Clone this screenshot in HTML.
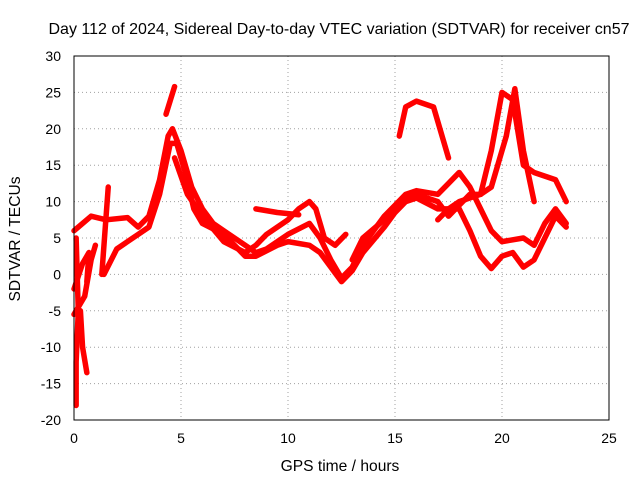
<!DOCTYPE html>
<html><head><meta charset="utf-8"><style>
body{margin:0;background:#fff}
svg{display:block;font-family:"Liberation Sans",sans-serif}
</style></head><body>
<svg id="chart" width="640" height="480">
<rect x="0" y="0" width="640" height="480" fill="#fff"/>
<g id="grid"></g>
<g id="series"></g>
<rect x="74" y="56" width="535" height="364" fill="none" stroke="#000" stroke-width="1"/>
<g id="ticks"></g>
<text x="339" y="34" text-anchor="middle" font-size="16">Day 112 of 2024, Sidereal Day-to-day VTEC variation (SDTVAR) for receiver cn57</text>
<text x="340" y="471" text-anchor="middle" font-size="15.6">GPS time / hours</text>
<text x="20" y="239" text-anchor="middle" font-size="15.6" transform="rotate(-90 20 239)">SDTVAR / TECUs</text>
</svg>
<script>
const xTicks=[0,5,10,15,20,25];
const yTicks=[-20,-15,-10,-5,0,5,10,15,20,25,30];
const track1=[[0,6],[0.8,8],[1.5,7.5],[2.5,7.8],[3,6.5],[3.5,8],[4,13],[4.4,19],[4.6,20],[5,17],[5.5,12],[6,9],[6.5,7],[7,6],[7.5,5],[8,4],[8.5,3],[9,3.5],[10,5.5],[11,7],[11.5,5],[12,2],[12.5,-0.5],[13,1],[13.5,4],[14.5,8],[15,9.5],[15.5,11],[16,11.5],[17,11],[17.5,12.5],[18,14],[18.5,12],[19,9],[19.5,6],[20,4.5],[21,5],[21.5,4],[22,7],[22.5,9],[23,7]];
const track2=[[1.4,0],[2,3.5],[3,5.5],[3.5,6.5],[4,11],[4.5,18],[4.8,18],[5.2,14],[5.6,9],[6,7],[7,5.5],[8,2.5],[8.5,2.5],[9.5,4],[10,4.5],[11,4],[11.5,3],[12,1],[12.5,-1],[13,0.5],[13.5,3],[14.5,6.5],[15,8.5],[15.5,10],[16,10.5],[17,9],[18,9],[18.5,6],[19,2.5],[19.5,0.8],[20,2.5],[20.5,3],[21,1],[21.5,2],[22,5],[22.5,8],[23,6.5]];
const track3=[[4.7,16],[5.3,11],[6,8],[7,4.5],[8,3],[8.5,4],[9,5.5],[10,7.5],[10.5,9],[11,10],[11.3,9],[11.7,5],[12.2,4],[12.7,5.5]];
const track4=[[13,2],[13.5,5],[14.5,7.5],[15,9],[15.5,10.5],[16,11],[16.5,10.5],[17,10],[17.5,8],[18,9.5],[18.5,11],[19,11],[19.5,17],[20,25],[20.5,24],[21,15],[21.5,14],[22,13.5],[22.5,13],[23,10]];
const track5=[[17,7.5],[17.5,9],[18,10],[19,11],[19.5,12],[20.2,19],[20.6,25.5],[21,17],[21.5,10]];
const track6=[[15.2,19],[15.5,23],[16,23.8],[16.8,23],[17.5,16]];
const track7=[[4.3,22],[4.7,25.8]];
const track8=[[8.5,9],[9.5,8.5],[10.5,8.2]];
const track9=[[0,-2],[0.4,1.5],[0.7,3],[0.6,-1]];
const track10=[[0,-5.5],[0.5,-3],[0.8,2],[1.0,4]];
const track11=[[0.1,5],[0.2,-5],[0.1,-12],[0.1,-18]];
const track12=[[0.3,-5],[0.4,-10],[0.6,-13.5]];
const track13=[[1.3,0],[1.45,6],[1.6,12]];
const tracks=[track1,track2,track3,track4,track5,track6,track7,track8,track9,track10,track11,track12,track13];
const NS='http://www.w3.org/2000/svg';
const X0=74,X1=609,Y0=420,Y1=56;
function xs(v){return X0+(v-0)/25*(X1-X0);}
function ys(v){return Y0-(v+20)/50*(Y0-Y1);}
const grid=document.getElementById('grid'),ticks=document.getElementById('ticks'),ser=document.getElementById('series');
xTicks.forEach(t=>{
 const x=xs(t);
 if(t>0&&t<25){const l=document.createElementNS(NS,'line');l.setAttribute('x1',x);l.setAttribute('x2',x);l.setAttribute('y1',Y1);l.setAttribute('y2',Y0);l.setAttribute('stroke','#a0a0a0');l.setAttribute('stroke-dasharray','1,3');
 
 
 grid.appendChild(l);}
 const tx=document.createElementNS(NS,'text');tx.setAttribute('x',x);tx.setAttribute('y',443);tx.setAttribute('text-anchor','middle');tx.setAttribute('font-size','14');tx.textContent=t;
 
 
 ticks.appendChild(tx);
});
yTicks.forEach(t=>{
 const y=ys(t);
 if(t>-20&&t<30){const l=document.createElementNS(NS,'line');l.setAttribute('x1',X0);l.setAttribute('x2',X1);l.setAttribute('y1',y);l.setAttribute('y2',y);l.setAttribute('stroke','#a0a0a0');l.setAttribute('stroke-dasharray','1,3');
 
 
 grid.appendChild(l);}
 const tx=document.createElementNS(NS,'text');tx.setAttribute('x',61);tx.setAttribute('y',y+5);tx.setAttribute('text-anchor','end');tx.setAttribute('font-size','14');tx.textContent=t;
 
 
 ticks.appendChild(tx);
});
tracks.forEach((tr,i)=>{
 const p=document.createElementNS(NS,'polyline');
 p.setAttribute('points',tr.map(d=>xs(d[0])+','+ys(d[1])).join(' '));
 p.setAttribute('fill','none');p.setAttribute('stroke','#ff0000');p.setAttribute('stroke-width','5.5');p.setAttribute('stroke-linejoin','round');p.setAttribute('stroke-linecap','round');
 
 
 ser.appendChild(p);
});
</script>
</body></html>
